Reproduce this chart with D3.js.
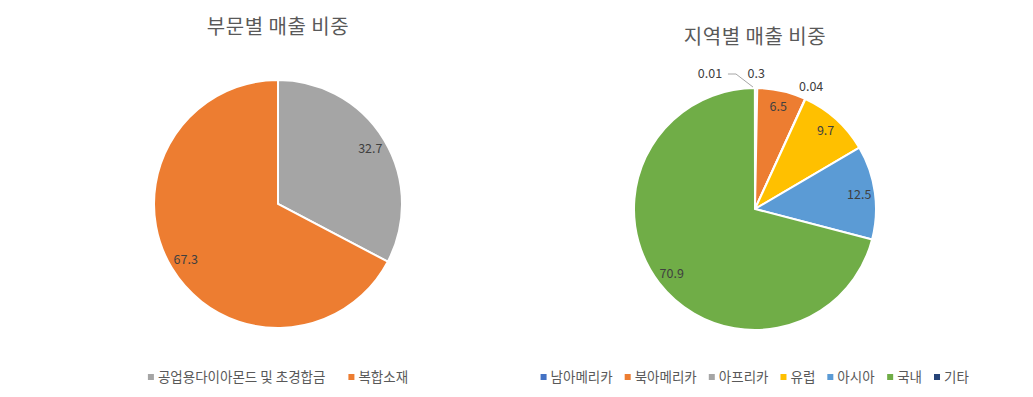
<!DOCTYPE html>
<html>
<head>
<meta charset="utf-8">
<script src="https://cdn.jsdelivr.net/npm/d3@7"></script>
<style>
  body { margin: 0; background: #fff; }
  text { font-family: "Noto Sans CJK KR", "Noto Sans", sans-serif; }
</style>
</head>
<body>
<div id="chart"></div>
<script>
//////////////////////////////////////////////////////////////
///////////////////////// Data ///////////////////////////////
//////////////////////////////////////////////////////////////

var titleLeft = "부문별 매출 비중";
var catsLeft = ["공업용다이아몬드 및 초경합금", "복합소재"];
var valsLeft = [32.7, 67.3];
var colorsLeft = ["#A5A5A5", "#ED7D31"];

var titleRight = "지역별 매출 비중";
var catsRight = ["남아메리카", "북아메리카", "아프리카", "유럽", "아시아", "국내", "기타"];
var valsRight = [0.3, 6.5, 0.04, 9.7, 12.5, 70.9, 0.01];
var labelsRight = ["0.3", "6.5", "0.04", "9.7", "12.5", "70.9", "0.01"];
var colorsRight = ["#4472C4", "#ED7D31", "#A5A5A5", "#FFC000", "#5B9BD5", "#70AD47", "#264478"];

//////////////////////////////////////////////////////////////
///////////////////// General settings ///////////////////////
//////////////////////////////////////////////////////////////

var width = 1033;
var height = 397;

var svg = d3.select("#chart").append("svg")
    .attr("width", width)
    .attr("height", height);

var pie = d3.pie().sort(null).value(function(d) { return d.value; });

//////////////////////////////////////////////////////////////
///////////////////////// Draw pie ///////////////////////////
//////////////////////////////////////////////////////////////

function drawPie(opt) {
    var data = opt.cats.map(function(c, i) {
        return {name: c, value: opt.vals[i], label: opt.labels[i], color: opt.colors[i]};
    });
    var arcs = pie(data);
    var r = opt.r;

    var g = svg.append("g")
        .attr("transform", "translate(" + opt.cx + "," + opt.cy + ")");

    var arc = d3.arc().innerRadius(0).outerRadius(r);
    var labelArc = d3.arc().innerRadius(r * 0.87).outerRadius(r * 0.87);
    var outArc = d3.arc().innerRadius(r + 14).outerRadius(r + 14);

    g.selectAll(".slice")
        .data(arcs).enter()
        .append("path")
            .attr("class", "slice")
            .attr("d", arc)
            .attr("fill", function(d) { return d.data.color; })
            .attr("stroke", "#fff")
            .style("stroke-width", 2);

    //labels: small slices go outside
    arcs.forEach(function(d) {
        var small = d.data.value < 1;
        var p = small ? outArc.centroid(d) : labelArc.centroid(d);
        var shift = opt.shift && opt.shift[d.index] ? opt.shift[d.index] : [0, 0];
        var tx = p[0] + shift[0], ty = p[1] + shift[1];
        if (shift[0] !== 0) {
            //leader line back to the slice edge
            var edge = d3.arc().innerRadius(r).outerRadius(r).centroid(d);
            g.append("polyline")
                .attr("points", [[tx + 18, ty], [tx + 26, ty], [edge[0] - 2, edge[1] - 1]].join(" "))
                .attr("fill", "none")
                .attr("stroke", "#A6A6A6")
                .style("stroke-width", 1);
        }
        g.append("text")
            .attr("x", tx)
            .attr("y", ty)
            .attr("text-anchor", "middle")
            .attr("dy", "0.35em")
            .style("font-size", "12.5px")
            .style("fill", "#404040")
            .text(d.data.label);
    });

    //title
    svg.append("text")
        .attr("x", opt.cx)
        .attr("y", opt.titleY)
        .attr("text-anchor", "middle")
        .attr("dy", "0.35em")
        .style("font-size", "20px")
        .style("letter-spacing", "0.5px")
        .style("fill", "#595959")
        .text(opt.title);

    //legend
    var lg = svg.append("g").attr("class", "legend");
    var items = lg.selectAll(".item")
        .data(data).enter()
        .append("g").attr("class", "item");
    items.append("rect")
        .attr("width", 6).attr("height", 6)
        .attr("y", -3)
        .attr("fill", function(d) { return d.color; });
    items.append("text")
        .attr("x", 10)
        .attr("dy", "0.35em")
        .style("font-size", "13.5px")
        .style("fill", "#595959")
        .text(function(d) { return d.name; });
    var x = 0;
    items.each(function() {
        var w = this.getBBox().width;
        d3.select(this).attr("transform", "translate(" + x + ",0)");
        x += w + opt.legendGap;
    });
    var total = x - opt.legendGap;
    lg.attr("transform", "translate(" + (opt.cx - total / 2) + "," + opt.legendY + ")");
}

drawPie({
    cats: catsLeft, vals: valsLeft, labels: valsLeft.map(String), colors: colorsLeft,
    cx: 278, cy: 204, r: 124, title: titleLeft, titleY: 27,
    legendY: 377, legendGap: 23
});

drawPie({
    cats: catsRight, vals: valsRight, labels: labelsRight, colors: colorsRight,
    cx: 755, cy: 209, r: 121, title: titleRight, titleY: 37,
    legendY: 377, legendGap: 12,
    shift: {0: [0, 0], 6: [-45, 0]}
});
</script>
</body>
</html>
